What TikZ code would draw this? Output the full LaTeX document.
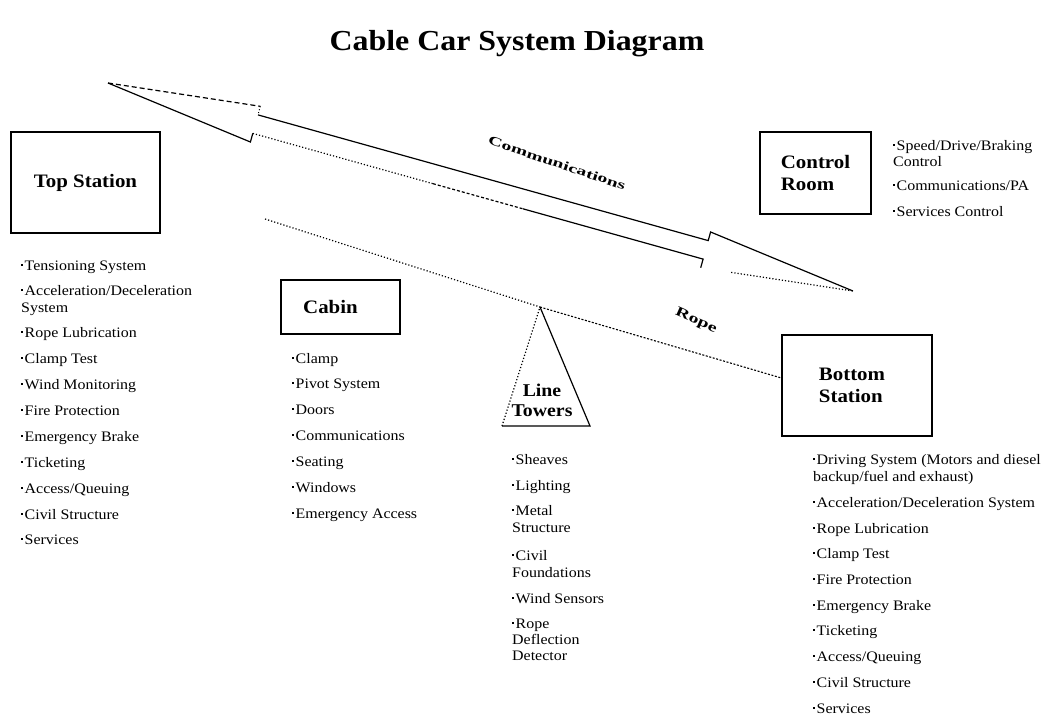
\documentclass[tikz,border=0pt]{standalone}
\usepackage{fontspec}
\setmainfont{Liberation Serif}[FakeStretch=1.1]
\usetikzlibrary{calc}
\newcommand{\blt}{\raisebox{0.28em}{\rule{1.7pt}{1.7pt}}\hspace{1.8pt}}
\tikzset{
  box/.style={draw, line width=1.2pt, inner sep=0pt, align=left,
    font=\fontsize{19}{22}\selectfont\bfseries},
  item/.style={anchor=base west, inner sep=0pt, font=\fontsize{14.5}{17}\selectfont},
  solidline/.style={line width=1.2pt},
  dotline/.style={line width=1.2pt, dotted},
  dashline/.style={line width=1.2pt, dash pattern=on 5pt off 3pt},
  ropeline/.style={line width=1.1pt, dash pattern=on 2pt off 1.6pt},
  slanted/.style={inner sep=0pt, font=\fontsize{18}{20}\selectfont\bfseries}
}
\begin{document}
\begin{tikzpicture}[x=1pt,y=-1pt]
\useasboundingbox (0,0) rectangle (1042,715);
\fill[white] (0,0) rectangle (1042,715);

% title
\node[anchor=base, inner sep=0pt, font=\fontsize{29}{32}\selectfont\bfseries] (title) at (517,50) {Cable Car System Diagram};

% boxes
\node[box, minimum width=149pt, minimum height=101pt] (top) at (85.5,182.5) {Top Station};
\node[box, minimum width=119pt, minimum height=54pt] (cabin) at (340.5,307) {Cabin\hspace*{20pt}};
\node[box, minimum width=111pt, minimum height=82pt] (ctrl) at (815.5,173) {Control\\Room};
\node[box, minimum width=150pt, minimum height=101pt] (bs) at (857,385.5) {Bottom\hspace*{10pt}\\Station};

% communications double arrow
\coordinate (L) at (108,83);
\coordinate (R) at (853,291);
\coordinate (LT) at (260.3,106.3);
\coordinate (LB) at (250.4,142.0);
\coordinate (LST) at (258.0,114.9);
\coordinate (LSB) at (252.8,133.4);
\coordinate (RT) at (710.6,232.0);
\coordinate (RB) at (700.7,267.7);
\coordinate (RST) at (708.2,240.6);
\coordinate (RSB) at (703.1,259.1);
\draw[dashline] (L) -- (LT);
\draw[line width=1pt, dotted] (LT) -- (LST);
\draw[solidline] (LST) -- (RST) -- (RT) -- (R);
\draw[solidline] (L) -- (LB) -- (LSB);
\draw[dotline] (LSB) -- ($(LSB)!0.4!(RSB)$);
\draw[line width=1.2pt, dash pattern=on 3pt off 2pt] ($(LSB)!0.4!(RSB)$) -- ($(LSB)!0.6!(RSB)$);
\draw[solidline] ($(LSB)!0.6!(RSB)$) -- (RSB) -- (RB);
\draw[dotline] ($(RB)!0.2!(R)$) -- (R);
\node[slanted, rotate=-18.7] (comm) at (557,163) {\scalebox{1}[0.7]{Communications}};

% line tower
\coordinate (apex) at (540,307);
\coordinate (tbl) at (502,426);
\coordinate (tbr) at (590,426);
\draw[dotline] (tbl) -- (apex);
\draw[solidline] (apex) -- (tbr) -- (tbl);
\node[align=center, inner sep=0pt, font=\fontsize{18}{20}\selectfont\bfseries] (tower) at (542,400) {Line\\Towers};

% rope
\coordinate (ropestart) at (265,219);
\draw[dotline] (ropestart) -- (apex);
\draw[ropeline] (apex) -- ($(bs.west)+(0,-7.5)$);
\node[slanted, rotate=-24] (ropelabel) at (696,321) {\scalebox{1}[0.75]{Rope}};

% Top station list
\node[item] (t1) at (21,270) {\blt Tensioning System};
\node[item] (t2) at (21,295) {\blt Acceleration/Deceleration};
\node[item] (t2b) at (21,312) {System};
\node[item] (t3) at (21,337) {\blt Rope Lubrication};
\node[item] (t4) at (21,363) {\blt Clamp Test};
\node[item] (t5) at (21,389) {\blt Wind Monitoring};
\node[item] (t6) at (21,415) {\blt Fire Protection};
\node[item] (t7) at (21,441) {\blt Emergency Brake};
\node[item] (t8) at (21,467) {\blt Ticketing};
\node[item] (t9) at (21,493) {\blt Access/Queuing};
\node[item] (t10) at (21,519) {\blt Civil Structure};
\node[item] (t11) at (21,544) {\blt Services};

% Cabin list
\node[item] (c1) at (292,363) {\blt Clamp};
\node[item] (c2) at (292,388) {\blt Pivot System};
\node[item] (c3) at (292,414) {\blt Doors};
\node[item] (c4) at (292,440) {\blt Communications};
\node[item] (c5) at (292,466) {\blt Seating};
\node[item] (c6) at (292,492) {\blt Windows};
\node[item] (c7) at (292,518) {\blt Emergency Access};

% Line towers list
\node[item] (l1) at (512,464) {\blt Sheaves};
\node[item] (l2) at (512,490) {\blt Lighting};
\node[item] (l3) at (512,515) {\blt Metal};
\node[item] (l3b) at (512,532) {Structure};
\node[item] (l4) at (512,560) {\blt Civil};
\node[item] (l4b) at (512,577) {Foundations};
\node[item] (l5) at (512,603) {\blt Wind Sensors};
\node[item] (l6) at (512,628) {\blt Rope};
\node[item] (l6b) at (512,644) {Deflection};
\node[item] (l6c) at (512,660) {Detector};

% Bottom station list
\node[item] (b1) at (813,464) {\blt Driving System (Motors and diesel};
\node[item] (b1b) at (813,481) {backup/fuel and exhaust)};
\node[item] (b2) at (813,507) {\blt Acceleration/Deceleration System};
\node[item] (b3) at (813,533) {\blt Rope Lubrication};
\node[item] (b4) at (813,558) {\blt Clamp Test};
\node[item] (b5) at (813,584) {\blt Fire Protection};
\node[item] (b6) at (813,610) {\blt Emergency Brake};
\node[item] (b7) at (813,635) {\blt Ticketing};
\node[item] (b8) at (813,661) {\blt Access/Queuing};
\node[item] (b9) at (813,687) {\blt Civil Structure};
\node[item] (b10) at (813,713) {\blt Services};

% Control room list
\node[item] (r1) at (893,150) {\blt Speed/Drive/Braking};
\node[item] (r1b) at (893,166) {Control};
\node[item] (r2) at (893,190) {\blt Communications/PA};
\node[item] (r3) at (893,216) {\blt Services Control};
\end{tikzpicture}
\end{document}
